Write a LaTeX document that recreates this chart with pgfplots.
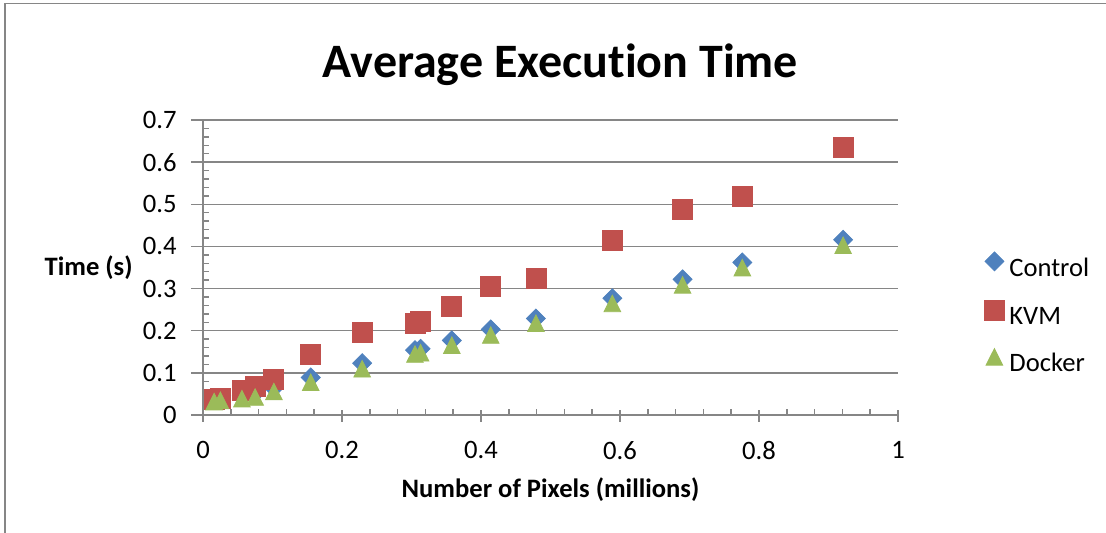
\documentclass[border=0pt]{standalone}
\usepackage{fontspec}
\setmainfont{Carlito}[Ligatures=NoCommon]
\usepackage{pgfplots}
\pgfplotsset{compat=1.18}
\definecolor{cctrl}{HTML}{4F81BD}
\definecolor{ckvm}{HTML}{C0504D}
\definecolor{cdock}{HTML}{9BBB59}
\definecolor{cgrid}{HTML}{868686}
\begin{document}
\begin{tikzpicture}
\useasboundingbox (0,0) rectangle (553pt,266.5pt);
\draw[cgrid, line width=0.75pt] (2.5pt,-10pt) -- (2.5pt,264.75pt) -- (560pt,264.75pt);
\begin{axis}[
  at={(101.5pt,59pt)}, anchor=south west,
  scale only axis, width=347.5pt, height=147.5pt,
  xmin=0, xmax=1, ymin=0, ymax=0.7,
  clip=false,
  axis x line*=bottom, axis y line*=left,
  axis line style={cgrid, line width=0.75pt, -},
  xtick={0,0.2,0.4,0.6,0.8,1},
  ytick={0,0.1,0.2,0.3,0.4,0.5,0.6,0.7},
  minor x tick num=4, minor y tick num=4,
  ymajorgrids,
  major grid style={cgrid, line width=0.75pt},
  tick style={cgrid, line width=0.75pt},
  tick align=inside,
  major tick length=6pt, minor tick length=3pt,
  every major x tick/.append style={yshift=-3.5pt},
  every major y tick/.append style={xshift=-6pt},
  /pgf/number format/assume math mode=true,
  tick label style={font=\fontsize{13.3}{16}\selectfont, text=black, inner sep=0pt},
  yticklabel style={/pgf/number format/fixed, /pgf/number format/precision=1, anchor=east, xshift=-13pt},
  xticklabel style={/pgf/number format/fixed, /pgf/number format/precision=1, anchor=north, yshift=-13pt},
  xlabel={Number of Pixels (millions)},
  ylabel={Time (s)},
  every axis x label/.style={at={(axis description cs:0.5,0)}, anchor=north, yshift=-31pt, inner sep=0pt, font=\bfseries\fontsize{13.3}{16}\selectfont},
  every axis y label/.style={at={(axis description cs:0,0.5)}, anchor=east, xshift=-35pt, inner sep=0pt, font=\bfseries\fontsize{13.3}{16}\selectfont},
  title={Average Execution Time},
  title style={at={(axis description cs:0.5,1)}, anchor=base, yshift=15pt, xshift=5pt, inner sep=0pt, font=\bfseries\fontsize{24}{28}\selectfont},
  legend style={at={(axis description cs:1,0.342)}, anchor=west, xshift=43pt, draw=none, fill=none,
    font=\fontsize{13.3}{16}\selectfont, row sep=9.3pt, column sep=2.5pt, inner sep=0pt,
    nodes={inner sep=0pt, text height=9.5pt, text depth=2.5pt}},
  legend cell align=left,
  legend image code/.code={\draw[#1] plot coordinates {(5pt,4pt)};},
]
\addplot[only marks, mark=square*, mark size=3.35pt, mark options={rotate=45, fill=cctrl, draw=cctrl}] coordinates {
(0.016,0.036) (0.025,0.038) (0.056,0.047) (0.075,0.052) (0.102,0.064) (0.155,0.089) (0.229,0.123) (0.305,0.154) (0.313,0.157) (0.358,0.177) (0.414,0.203) (0.479,0.229) (0.589,0.277) (0.690,0.322) (0.776,0.362) (0.921,0.416)
};
\addlegendentry{Control}
\addplot[only marks, mark=square*, mark size=5pt, mark options={fill=ckvm, draw=ckvm}] coordinates {
(0.016,0.038) (0.025,0.040) (0.056,0.059) (0.075,0.067) (0.102,0.085) (0.155,0.144) (0.229,0.197) (0.305,0.218) (0.313,0.223) (0.358,0.258) (0.414,0.304) (0.479,0.323) (0.589,0.414) (0.690,0.487) (0.776,0.518) (0.921,0.634)
};
\addlegendentry{KVM}
\addplot[only marks, mark=triangle*, mark size=4.8pt, mark options={yshift=-1.65pt, yscale=1.15, fill=cdock, draw=cdock}] coordinates {
(0.016,0.033) (0.025,0.036) (0.056,0.040) (0.075,0.044) (0.102,0.057) (0.155,0.079) (0.229,0.111) (0.305,0.146) (0.313,0.149) (0.358,0.167) (0.414,0.191) (0.479,0.219) (0.589,0.266) (0.690,0.310) (0.776,0.351) (0.921,0.404)
};
\addlegendentry{Docker}
\end{axis}
\end{tikzpicture}
\end{document}
